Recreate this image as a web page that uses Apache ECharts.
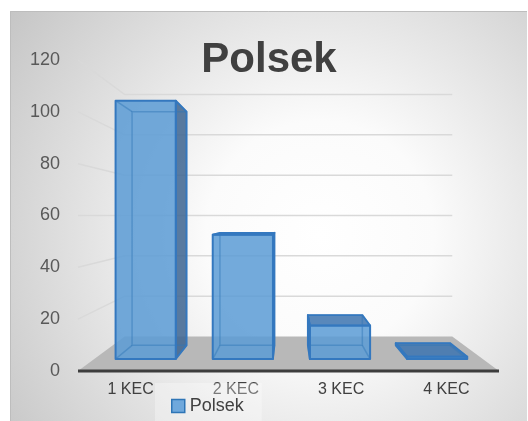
<!DOCTYPE html>
<html>
<head>
<meta charset="utf-8">
<script src="https://cdn.jsdelivr.net/npm/echarts@6/dist/echarts.min.js"></script>
<style>
html,body{margin:0;padding:0;background:#ffffff;}
#c{width:528px;height:421px;}
</style>
</head>
<body>
<div id="c"></div>
<script>
// ---- data ----
const categories = ['1 KEC', '2 KEC', '3 KEC', '4 KEC'];
const polsekValues = [108, 52, 14, 1];
const yTicks = [0, 20, 40, 60, 80, 100, 120];
const seriesName = 'Polsek';
const titleText = 'Polsek';

// ---- perspective settings (style) ----
const P = { horizonValue: 60, backK: 0.778, barFrontK: 0.923, barBackK: 0.835, barWidth: 0.62, barShift: 0.03 };
const FONT = "'Liberation Sans', Arial, sans-serif";

function proj(vp, x, y, k) { return [vp[0] + (x - vp[0]) * k, vp[1] + (y - vp[1]) * k]; }
function vpOf(params, api) {
  const cs = params.coordSys;
  return [cs.x + cs.width / 2, api.coord([0, P.horizonValue])[1]];
}

function renderGrid(params, api) {
  const v = api.value(1);
  if (v === 0) return null;
  const cs = params.coordSys;
  const vp = vpOf(params, api);
  const y = api.coord([0, v])[1];
  const xl = cs.x, xr = cs.x + cs.width;
  return {
    type: 'polyline',
    shape: { points: [[xl, y], proj(vp, xl, y, P.backK), proj(vp, xr, y, P.backK)] },
    style: { stroke: '#d9d9d9', lineWidth: 1.5, fill: null }
  };
}

function renderFloor(params, api) {
  const cs = params.coordSys;
  const vp = vpOf(params, api);
  const y0 = api.coord([0, 0])[1];
  const xl = cs.x, xr = cs.x + cs.width;
  return {
    type: 'group',
    children: [
      { type: 'polygon', shape: { points: [[xl, y0], [xr, y0], proj(vp, xr, y0, P.backK), proj(vp, xl, y0, P.backK)] },
        style: { fill: '#b8b8b8' } },
      { type: 'line', shape: { x1: xl, y1: y0, x2: xr, y2: y0 }, style: { stroke: '#3d3d3d', lineWidth: 3 } }
    ]
  };
}

const EDGE = '#3478bf';
function renderBar(params, api) {
  const vp = vpOf(params, api);
  const idx = api.value(0), val = api.value(1);
  const top = api.coord([idx, val]);
  const base = api.coord([idx, 0]);
  const bw = api.size([1, 0])[0];
  const cx = top[0] + bw * P.barShift;
  const x0 = cx - bw * P.barWidth / 2, x1 = cx + bw * P.barWidth / 2;
  const yt = top[1], yb = base[1];
  const kf = P.barFrontK, kb = P.barBackK;
  const F = [proj(vp, x0, yt, kf), proj(vp, x1, yt, kf), proj(vp, x1, yb, kf), proj(vp, x0, yb, kf)];
  const B = [proj(vp, x0, yt, kb), proj(vp, x1, yt, kb), proj(vp, x1, yb, kb), proj(vp, x0, yb, kb)];
  const ch = [];
  const sideFill = 'rgba(60,100,145,0.85)';
  const topFill = 'rgba(60,115,175,0.85)';
  const faces = [];
  if (F[1][0] < vp[0]) faces.push({ pts: [F[1], B[1], B[2], F[2]], fill: sideFill });
  if (F[0][0] > vp[0]) faces.push({ pts: [F[0], B[0], B[3], F[3]], fill: sideFill });
  if (F[0][1] > vp[1]) faces.push({ pts: [F[0], F[1], B[1], B[0]], fill: topFill });
  faces.forEach(f => ch.push({ type: 'polygon', shape: { points: f.pts }, style: { fill: f.fill } }));
  ch.push({ type: 'polygon', shape: { points: F }, style: { fill: 'rgba(91,155,213,0.85)' } });
  // hidden edges seen through the glass
  ch.push({ type: 'polygon', shape: { points: B }, style: { fill: null, stroke: 'rgba(46,117,182,0.45)', lineWidth: 1.5 } });
  for (let i = 0; i < 4; i++) {
    ch.push({ type: 'line', shape: { x1: F[i][0], y1: F[i][1], x2: B[i][0], y2: B[i][1] },
      style: { stroke: 'rgba(46,117,182,0.45)', lineWidth: 1.5 } });
  }
  faces.forEach(f => ch.push({ type: 'polygon', shape: { points: f.pts }, style: { fill: null, stroke: EDGE, lineWidth: 1.8, lineJoin: 'round' } }));
  ch.push({ type: 'polygon', shape: { points: F }, style: { fill: null, stroke: EDGE, lineWidth: 2, lineJoin: 'round' } });
  return { type: 'group', children: ch };
}

const chart = echarts.init(document.getElementById('c'), null, { renderer: 'canvas' });
chart.setOption({
  animation: false,
  textStyle: { fontFamily: FONT },
  graphic: {
    elements: [
      { type: 'rect', z: -10, silent: true,
        shape: { x: 10, y: 11, width: 517, height: 410 },
        style: { fill: { type: 'radial', x: 320, y: 235, r: 380, global: true,
          colorStops: [{ offset: 0, color: '#ffffff' }, { offset: 0.3, color: '#fbfbfb' }, { offset: 1, color: '#c6c6c6' }] } } },
      { type: 'polyline', z: -9, silent: true,
        shape: { points: [[10.5, 421], [10.5, 11.5], [527, 11.5]] },
        style: { stroke: '#bdbdbd', lineWidth: 1, fill: null } }
    ]
  },
  title: {
    text: titleText, left: 269, top: 39, textAlign: 'center', padding: 0,
    textStyle: { fontFamily: FONT, fontSize: 42, fontWeight: 'bold', color: '#404040' }
  },
  legend: {
    data: [{ name: seriesName, icon: 'rect', itemStyle: { color: '#6fa8dc', borderColor: '#2e75b6', borderWidth: 1.5 } }],
    left: 155, top: 383, padding: [14, 18, 14, 16], itemWidth: 13, itemHeight: 13,
    backgroundColor: 'rgba(255,255,255,0.3)', selectedMode: false,
    textStyle: { fontFamily: FONT, fontSize: 18, color: '#404040' }
  },
  grid: { left: 78, right: 29, top: 60, bottom: 50 },
  xAxis: {
    type: 'category', data: categories,
    axisLine: { show: false }, axisTick: { show: false }, splitLine: { show: false },
    axisLabel: { margin: 11, fontSize: 16, color: '#404040', fontFamily: FONT }
  },
  yAxis: {
    type: 'value', min: 0, max: 120, interval: 20,
    axisLine: { show: false }, axisTick: { show: false }, splitLine: { show: false },
    axisLabel: { margin: 18, fontSize: 18, color: '#595959', fontFamily: FONT, padding: [3, 0, 0, 0] }
  },
  series: [
    { type: 'custom', z: 1, silent: true, renderItem: renderGrid, data: yTicks.map(v => [0, v]) },
    { type: 'custom', z: 1, silent: true, renderItem: renderFloor, data: [[0, 0]] },
    { type: 'custom', name: seriesName, z: 2, renderItem: renderBar,
      itemStyle: { color: '#6fa8dc', borderColor: '#2e75b6' },
      data: polsekValues.map((v, i) => [i, v]) }
  ]
});
</script>
</body>
</html>
